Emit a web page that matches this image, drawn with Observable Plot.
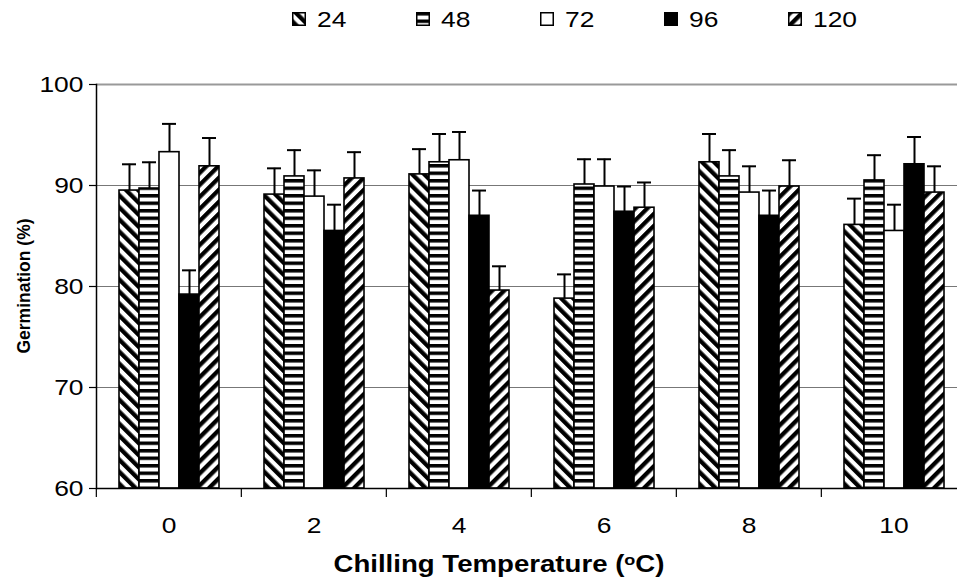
<!DOCTYPE html>
<html><head><meta charset="utf-8">
<script src="https://cdn.jsdelivr.net/npm/d3@7"></script>
<script src="https://cdn.jsdelivr.net/npm/@observablehq/plot@0.6"></script>
<style>
body{margin:0;background:#fff;font-family:"Liberation Sans",Arial,sans-serif;}
#wrap{position:relative;width:957px;height:585px;overflow:hidden;background:#fff;}
#legend{position:relative;height:44px;}
.item{position:absolute;top:0;height:44px;color:#000;}
.item svg{position:absolute;left:0;top:12px;}
.item span{position:absolute;left:25px;top:9px;font-size:22px;line-height:22px;transform:scaleX(1.2);transform-origin:0 0;white-space:nowrap;}
#xtitle{position:absolute;left:499px;top:553px;transform:translateX(-50%) scaleX(1.2);font-weight:bold;font-size:23px;line-height:23px;white-space:nowrap;color:#000;}
#xtitle sup{font-size:15px;vertical-align:0.5em;line-height:0;}
#ytitle{position:absolute;left:24px;top:286px;transform:translate(-50%,-50%) rotate(-90deg);font-weight:bold;font-size:17.5px;line-height:18px;white-space:nowrap;color:#000;}
</style></head>
<body>
<svg width="0" height="0" style="position:absolute"><defs>
<pattern id="p24" patternUnits="userSpaceOnUse" width="8.5" height="8.5" patternTransform="rotate(-45)">
<rect width="8.5" height="8.5" fill="white"/><rect width="4.3" height="8.5" fill="black"/></pattern>
<pattern id="p48" patternUnits="userSpaceOnUse" width="8" height="7.5">
<rect width="8" height="7.5" fill="white"/><rect width="8" height="3.5" fill="black"/></pattern>
<pattern id="p120" patternUnits="userSpaceOnUse" width="8.5" height="8.5" patternTransform="rotate(45)">
<rect width="8.5" height="8.5" fill="white"/><rect width="4.3" height="8.5" fill="black"/></pattern>
</defs></svg>
<div id="wrap"><div id="legend"></div><div id="chart"></div>
<div id="ytitle"></div>
<div id="xtitle"></div></div>
<script>
// Data
const categories = ["0", "2", "4", "6", "8", "10"];
const series = ["24", "48", "72", "96", "120"];
const g24  = [89.5, 89.1, 91.1, 78.8, 92.3, 86.1];
const g48  = [89.7, 90.9, 92.3, 90.1, 90.9, 90.5];
const g72  = [93.3, 88.9, 92.5, 89.9, 89.3, 85.5];
const g96  = [79.2, 85.5, 87.0, 87.4, 87.0, 92.1];
const g120 = [91.9, 90.7, 79.6, 87.8, 89.9, 89.3];
const e24  = [2.6, 2.6, 2.5, 2.4, 2.8, 2.6];
const e48  = [2.6, 2.6, 2.8, 2.5, 2.6, 2.5];
const e72  = [2.8, 2.6, 2.8, 2.7, 2.6, 2.6];
const e96  = [2.4, 2.6, 2.5, 2.5, 2.5, 2.7];
const e120 = [2.8, 2.6, 2.4, 2.5, 2.6, 2.6];
const yTicks = [60, 70, 80, 90, 100];
const gridTicks = [70, 80, 90];
const yLabel = "Germination (%)";
const xLabelMain = "Chilling Temperature (";
const xLabelSup = "o";
const xLabelEnd = "C)";

// Styles
const fills = ["url(#p24)", "url(#p48)", "white", "black", "url(#p120)"];
const values = [g24, g48, g72, g96, g120];
const errors = [e24, e48, e72, e96, e120];
const rows = categories.flatMap((c, i) => series.map((s, j) => ({cat: c, series: s, value: values[j][i], err: errors[j][i]})));

// Titles
document.getElementById("ytitle").textContent = yLabel;
const xt = document.getElementById("xtitle");
xt.append(xLabelMain);
const sup = document.createElement("sup"); sup.textContent = xLabelSup; xt.append(sup);
xt.append(xLabelEnd);

// Legend
const legend = document.getElementById("legend");
series.forEach((s, j) => {
  const item = document.createElement("div");
  item.className = "item";
  item.style.left = (292 + j * 124) + "px";
  item.innerHTML = `<svg width="14" height="14"><rect x="0.75" y="0.75" width="12.5" height="12.5" fill="${fills[j]}" stroke="black" stroke-width="1.5"/></svg><span></span>`;
  item.querySelector("span").textContent = s;
  legend.appendChild(item);
});

const W = 957, H = 504, mL = 95, mR = -10;
const bandStep = (W - mR - mL) / categories.length;

const plot = Plot.plot({
  width: W, height: H,
  marginLeft: mL, marginRight: mR, marginTop: 40, marginBottom: 60,
  style: {fontFamily: "'Liberation Sans', Arial, sans-serif", fontSize: "22px", color: "black", background: "white"},
  fx: {domain: categories, padding: 0, label: null},
  x: {domain: series, paddingInner: 0, paddingOuter: 0.99, axis: null},
  y: {domain: [60, 100]},
  color: {domain: series, range: fills},
  marks: [
    Plot.gridY(gridTicks, {stroke: "#777", strokeOpacity: 1, strokeWidth: 1}),
    Plot.ruleY([100], {stroke: "#999", strokeWidth: 2}),
    Plot.barY(rows, {fx: "cat", x: "series", y1: 60, y2: "value", fill: "series", stroke: "black", strokeWidth: 1.6}),
    Plot.ruleX(rows, {fx: "cat", x: "series", y1: "value", y2: d => d.value + d.err, stroke: "black", strokeWidth: 2}),
    Plot.tickY(rows, {fx: "cat", x: "series", y: d => d.value + d.err, insetLeft: 3, insetRight: 3, stroke: "black", strokeWidth: 2}),
    Plot.ruleY([60], {stroke: "black", strokeWidth: 1.5}),
    Plot.frame({anchor: "left", facetAnchor: "left", stroke: "black", strokeWidth: 1.5}),
    Plot.axisY({ticks: yTicks, tickSize: 7, tickPadding: 6, label: null, stroke: "black", strokeWidth: 1.2}),
    Plot.axisFx({anchor: "bottom", tickSize: 0, tickPadding: 29, label: null}),
    Plot.axisFx({anchor: "bottom", tickSize: 9, tickFormat: () => "", label: null, dx: -bandStep / 2, stroke: "black", strokeWidth: 1.2})
  ]
});
document.getElementById("chart").appendChild(plot);
// widen tick labels to match the reference's horizontally stretched type
d3.select(plot).selectAll("text").each(function() {
  const L = this.getComputedTextLength();
  if (L > 0) {
    this.setAttribute("textLength", L * 1.2);
    this.setAttribute("lengthAdjust", "spacingAndGlyphs");
  }
});
</script>
</body></html>
